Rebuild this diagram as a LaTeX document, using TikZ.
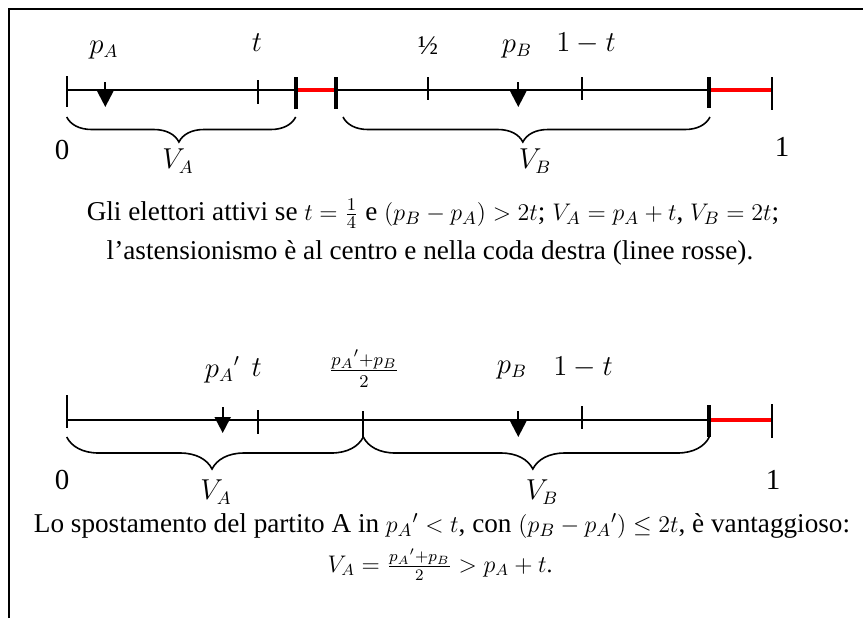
\documentclass[tikz,border=0pt]{standalone}
\usepackage{amsmath, amssymb}
\usepackage{fontspec}
\setmainfont{Liberation Serif}
\usepackage{tikz}
\usepackage{xcolor}
\usetikzlibrary{arrows.meta,decorations.pathreplacing}

% math inside the captions is set a little smaller than the text
\newcommand{\capmath}[1]{{\fontsize{12.4}{15}\selectfont$#1$}}

\tikzset{
  axisline/.style={line width=1pt},
  thintick/.style={line width=1pt},
  thicktick/.style={line width=2pt},
  abstention/.style={red, line width=1.7pt},
  party/.style={line width=1.1pt, -{Triangle[length=8pt,width=8pt]}},
  votebrace/.style={decorate, decoration={brace, mirror, amplitude=#1, aspect=0.49}, line width=0.8pt},
  pointlbl/.style={font=\fontsize{13.5}{16}\selectfont, inner sep=0pt},
  endlbl/.style={font=\fontsize{14.5}{17}\selectfont, inner sep=0pt},
  caption/.style={font=\fontsize{13.6}{16}\selectfont, inner sep=0pt, anchor=base}
}

\begin{document}
\begin{tikzpicture}[x=0.5pt,y=-0.5pt]
  \useasboundingbox (0,0) rectangle (863,618);
  % frame (top and left only)
  \coordinate (F0) at (9,618);
  \coordinate (F1) at (9,9);
  \coordinate (F2) at (863,9);
  \draw [line width=1pt] (F0) -- (F1) -- (F2);

  % ---- first line: t = 1/4
  \coordinate (Z1) at (66.7,90);
  \coordinate (G1) at (295.7,90);
  \coordinate (H1) at (335.7,90);
  \coordinate (K1) at (709.3,90);
  \coordinate (W1) at (771.7,90);
  \draw [axisline] (Z1) -- (W1);
  \draw [abstention] (G1) -- (H1);
  \draw [abstention] (K1) -- (W1);
  \draw [thintick] (66.7,76) -- (66.7,107);
  \draw [thintick] (257.7,80) -- (257.7,104);
  \draw [thicktick] (295.7,77) -- (295.7,109);
  \draw [thicktick] (335.7,77) -- (335.7,109);
  \draw [thintick] (428.3,77) -- (428.3,100);
  \draw [thintick] (582.3,77) -- (582.3,100);
  \draw [thicktick] (709.3,77) -- (709.3,108);
  \draw [thintick] (771.7,77) -- (771.7,110);
  \coordinate (PA1) at (105.3,82);
  \coordinate (PA1t) at (105.3,107);
  \coordinate (PB1) at (518.3,82);
  \coordinate (PB1t) at (518.3,107);
  \draw [party] (PA1) -- (PA1t);
  \draw [party] (PB1) -- (PB1t);
  \node [pointlbl] (pA1) at (104,50) {$p_A$};
  \node [pointlbl] (tL1) at (257,43) {$t$};
  \node [pointlbl] (half1) at (428,46) {½};
  \node [pointlbl] (pB1) at (517,49) {$p_B$};
  \node [pointlbl] (omt1) at (586,43) {$1-t$};
  \node [endlbl] (zero1) at (62,150) {0};
  \node [endlbl] (one1) at (782,147) {1};
  \draw [votebrace=12.5pt] (66.7,117) -- (295.7,117);
  \draw [votebrace=12.5pt] (343,117) -- (710,117);
  \node [pointlbl] (VA1) at (178,161) {$V_A$};
  \node [pointlbl] (VB1) at (535,161) {$V_B$};
  \node [caption] (cap1) at (433,220) {Gli elettori attivi se \capmath{t=\frac{1}{4}} e \capmath{(p_B-p_A)>2t}; \capmath{V_A=p_A+t}, \capmath{V_B=2t};};
  \node [caption] (cap2) at (430,259) {l’astensionismo è al centro e nella coda destra (linee rosse).};

  % ---- second line: A moves to p_A'
  \coordinate (Z2) at (66.7,420);
  \coordinate (K2) at (709.3,420);
  \coordinate (W2) at (771.7,420);
  \draw [axisline] (Z2) -- (W2);
  \draw [abstention] (K2) -- (W2);
  \draw [thintick] (66.7,395) -- (66.7,428);
  \draw [thintick] (257.7,410) -- (257.7,434);
  \draw [thintick] (363.3,411) -- (363.3,437);
  \draw [thintick] (582.3,406) -- (582.3,429);
  \draw [thicktick] (709.3,405) -- (709.3,437);
  \draw [thintick] (771.7,404) -- (771.7,438);
  \coordinate (PA2) at (222.7,407);
  \coordinate (PA2t) at (222.7,433);
  \coordinate (PB2) at (518.3,411);
  \coordinate (PB2t) at (518.3,437);
  \draw [party] (PA2) -- (PA2t);
  \draw [party] (PB2) -- (PB2t);
  \node [pointlbl] (pA2) at (222.5,370) {${p_A}'$};
  \node [pointlbl] (tL2) at (256.7,368) {$t$};
  \node [pointlbl] (mid2) at (364,369) {$\frac{{p_A}'+p_B}{2}$};
  \node [pointlbl] (pB2) at (512,370) {$p_B$};
  \node [pointlbl] (omt2) at (583,367) {$1-t$};
  \node [endlbl] (zero2) at (62,480) {0};
  \node [endlbl] (one2) at (773,480) {1};
  \draw [votebrace=16pt] (66.7,437) -- (363.3,437);
  \draw [votebrace=16pt] (363.3,437) -- (709.3,437);
  \node [pointlbl] (VA2) at (216,492) {$V_A$};
  \node [pointlbl] (VB2) at (542,492) {$V_B$};
  \node [caption] (cap3) at (442,532) {Lo spostamento del partito A in \capmath{{p_A}'<t}, con \capmath{(p_B-{p_A}')\leq 2t}, è vantaggioso:};
  \node [caption] (cap4) at (440,572) {{\fontsize{11.8}{14}\selectfont$V_A=\frac{{p_A}'+p_B}{2}>p_A+t$.}};
\end{tikzpicture}
\end{document}
